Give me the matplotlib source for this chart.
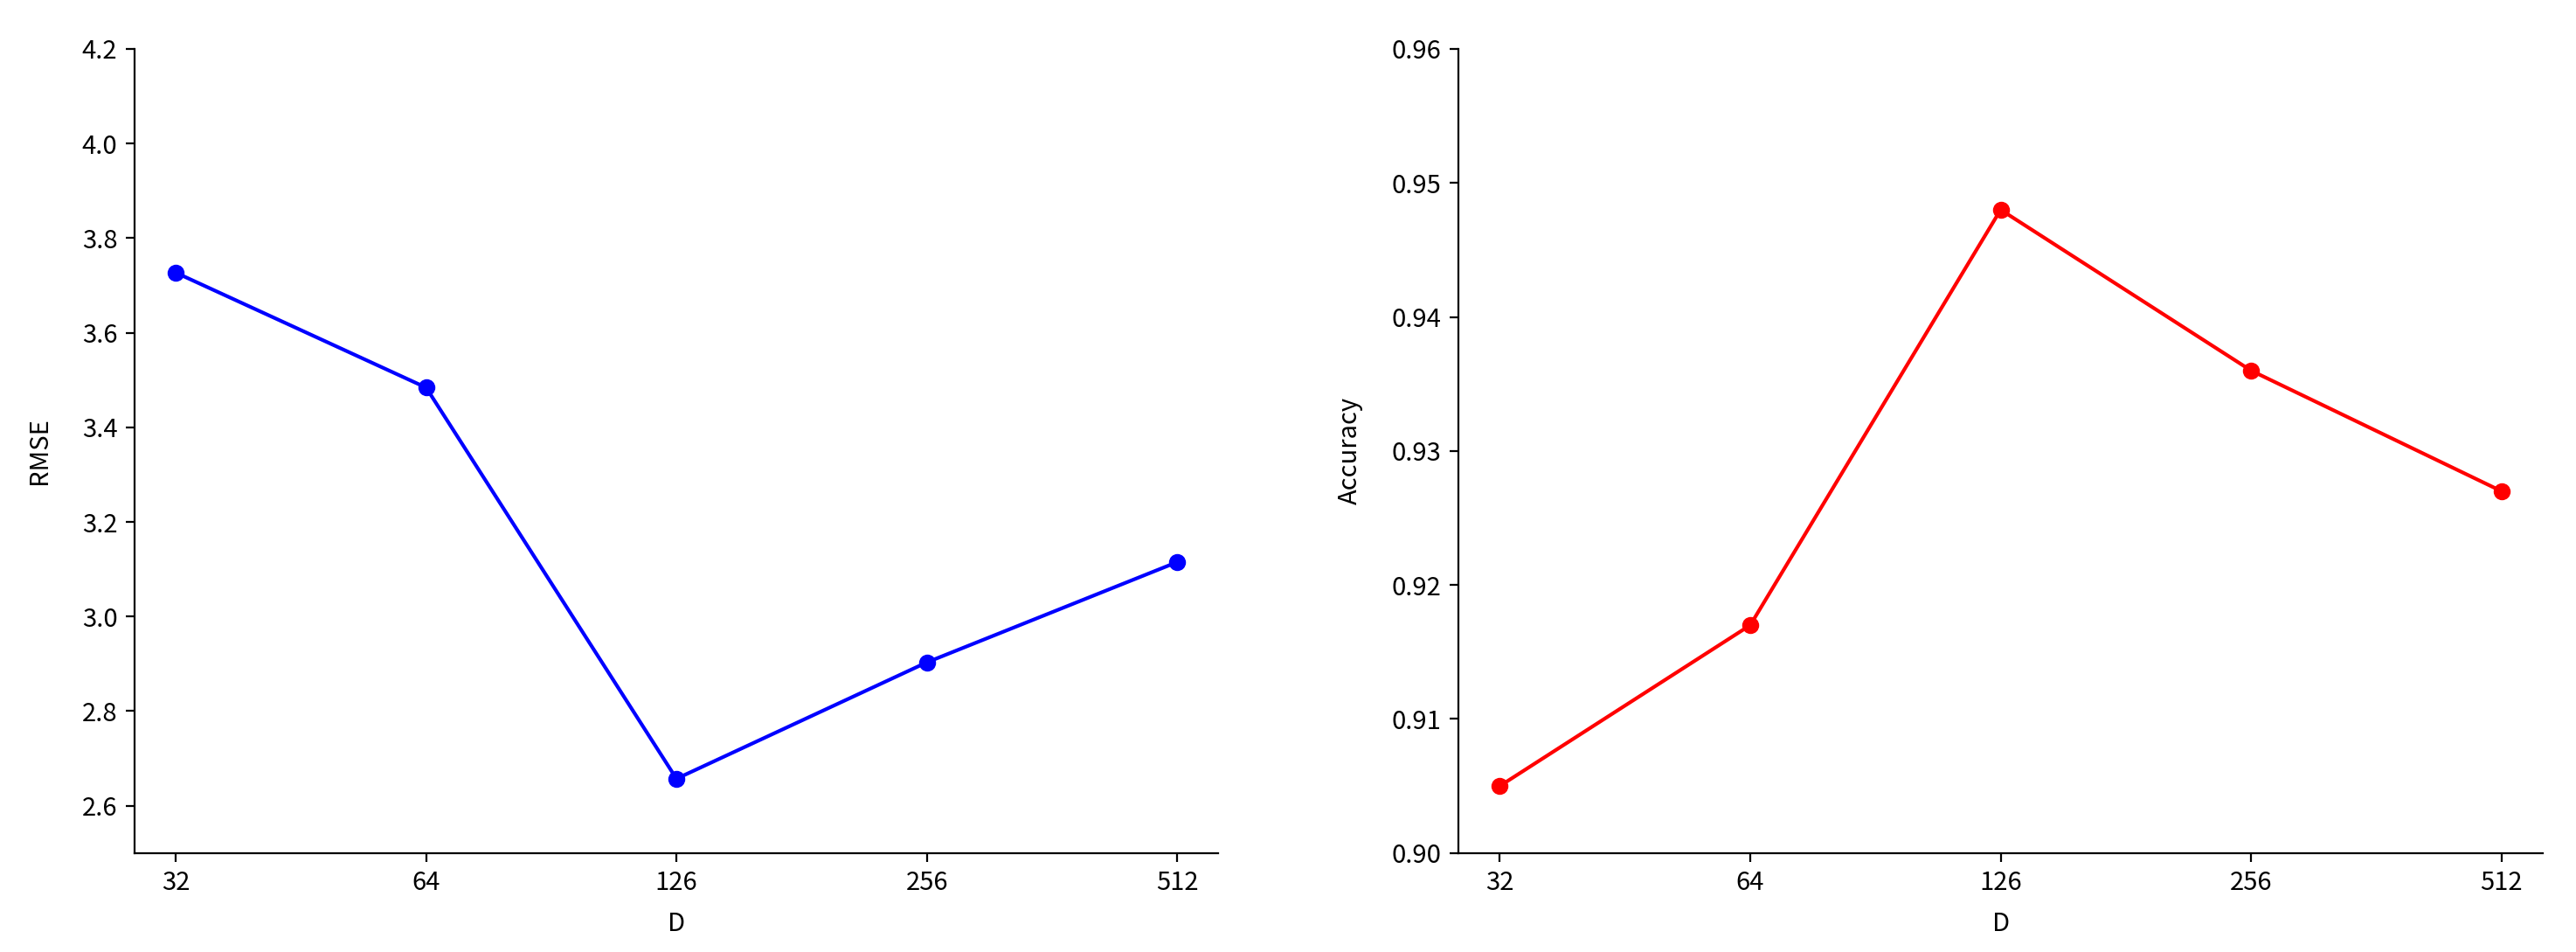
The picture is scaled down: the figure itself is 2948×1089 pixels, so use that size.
import matplotlib
matplotlib.use("Agg")
from matplotlib import pyplot as plt

plt.rcParams['font.family'] = ['Noto Sans CJK SC', 'DejaVu Sans']
plt.rcParams['font.size'] = 10.5

# hidden dimension D (tick labels as printed in the original)
d_labels = ['32', '64', '126', '256', '512']
rmse = [3.727, 3.484, 2.657, 2.903, 3.115]
accuracy = [0.905, 0.917, 0.948, 0.936, 0.927]

fig = plt.figure(figsize=(14.74, 5.445), dpi=200)
ax1 = fig.add_axes([0.0522, 0.104, 0.4208, 0.8446])
ax2 = fig.add_axes([0.5662, 0.104, 0.4209, 0.8446])

xs = list(range(len(d_labels)))

ax1.plot(xs, rmse, color='blue', marker='o', linewidth=1.5, markersize=6)
ax1.set_ylim(2.5, 4.2)
ax1.set_yticks([2.6, 2.8, 3.0, 3.2, 3.4, 3.6, 3.8, 4.0, 4.2])
ax1.set_ylabel('RMSE', labelpad=12)

ax2.plot(xs, accuracy, color='red', marker='o', linewidth=1.5, markersize=6)
ax2.set_ylim(0.90, 0.96)
ax2.set_yticks([0.90, 0.91, 0.92, 0.93, 0.94, 0.95, 0.96])
ax2.set_ylabel('Accuracy', labelpad=12)

for ax in (ax1, ax2):
   ax.set_xticks(xs)
   ax.set_xticklabels(d_labels)
   ax.set_xlim(-0.165, len(xs) - 1 + 0.165)
   ax.set_xlabel('D', labelpad=6)
   ax.spines['top'].set_visible(False)
   ax.spines['right'].set_visible(False)

ax1.yaxis.set_major_formatter(matplotlib.ticker.FormatStrFormatter('%.1f'))
ax2.yaxis.set_major_formatter(matplotlib.ticker.FormatStrFormatter('%.2f'))

fig.savefig('out.png', dpi=200)
